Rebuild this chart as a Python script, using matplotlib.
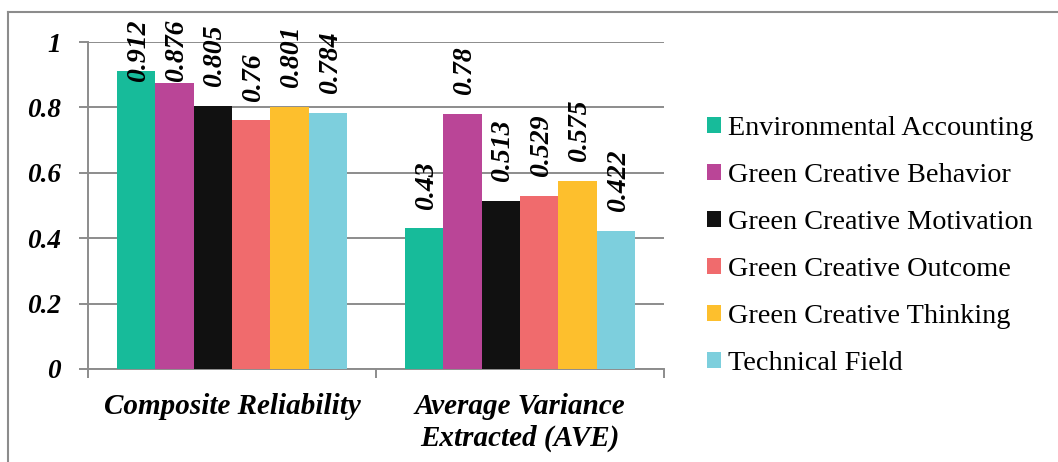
import numpy as np
import matplotlib.pyplot as plt
from matplotlib.lines import Line2D
from matplotlib.patches import Patch

# data
categories = ['Composite Reliability', 'Average Variance\nExtracted (AVE)']
series = ['Environmental Accounting', 'Green Creative Behavior',
          'Green Creative Motivation', 'Green Creative Outcome',
          'Green Creative Thinking', 'Technical Field']
cr_values = [0.912, 0.876, 0.805, 0.76, 0.801, 0.784]
ave_values = [0.43, 0.78, 0.513, 0.529, 0.575, 0.422]
value_labels = [['0.912', '0.876', '0.805', '0.76', '0.801', '0.784'],
                ['0.43', '0.78', '0.513', '0.529', '0.575', '0.422']]
colors = ['#17BB9A', '#BA4597', '#111111', '#F06B6D', '#FDBF2D', '#7DCFDD']
yticks = [0, 0.2, 0.4, 0.6, 0.8, 1]
ytick_labels = ['0', '0.2', '0.4', '0.6', '0.8', '1']

plt.rcParams['font.family'] = ['Liberation Serif', 'DejaVu Serif']

fig = plt.figure(figsize=(10.58, 4.62), dpi=100)
ax = fig.add_axes([88 / 1058, 1 - 369 / 462, 576 / 1058, 327 / 462])

grey = '#8c8c8c'
n = len(series)
w = 0.8 / n
x = np.arange(len(categories))
vals = np.array([cr_values, ave_values])

texts = []
for i in range(n):
    pos = x - 0.4 + w * (i + 0.5)
    ax.bar(pos, vals[:, i], width=w, color=colors[i], zorder=3,
           label=series[i])
    for j in range(len(categories)):
        t = ax.annotate(value_labels[j][i], xy=(pos[j], vals[j, i]),
                        xytext=(1.5, 13.5), textcoords='offset points',
                        rotation=90, ha='center', va='bottom',
                        fontsize=20, fontweight='bold', fontstyle='italic',
                        zorder=4, annotation_clip=False)
        texts.append(t)

ax.set_xlim(-0.5, 1.5)
ax.set_ylim(0, 1)
ax.set_yticks(yticks)
ax.set_yticklabels(ytick_labels, fontsize=19.5, fontweight='bold',
                   fontstyle='italic')
ax.yaxis.grid(True, color=grey, linewidth=1.4, zorder=0)
ax.tick_params(axis='y', length=6.5, width=1.4, color=grey, pad=13)

ax.set_xticks(x)
ax.set_xticklabels(categories, fontsize=21, fontweight='bold',
                   fontstyle='italic', linespacing=1.22)
ax.tick_params(axis='x', which='major', length=0, pad=17)
ax.set_xticks([-0.5, 0.5, 1.5], minor=True)
ax.tick_params(axis='x', which='minor', length=6.5, width=1.4, color=grey)

for s in ['top', 'right']:
    ax.spines[s].set_visible(False)
for s in ['left', 'bottom']:
    ax.spines[s].set_color(grey)
    ax.spines[s].set_linewidth(1.4)

# labels that would run off the top get pushed down (like Excel does)
fig.canvas.draw()
top_limit = 462 - 20
for t in texts:
    bb = t.get_window_extent()
    if bb.y1 > top_limit:
        ox, oy = t.xyann
        t.xyann = (ox, oy - (bb.y1 - top_limit) * 72 / 100)

handles = [Patch(facecolor=c, label=s) for c, s in zip(colors, series)]
fig.legend(handles=handles, loc='upper left',
           bbox_to_anchor=(696 / 1058, 1 - 105 / 462), frameon=False,
           fontsize=20.3, handlelength=0.5, handleheight=0.5,
           handletextpad=0.25, labelspacing=0.78, borderaxespad=0)

# outer frame (only top and left visible)
fig.add_artist(Line2D([8 / 1058, 1], [1 - 12 / 462, 1 - 12 / 462],
                      transform=fig.transFigure, color=grey, linewidth=1.5))
fig.add_artist(Line2D([8 / 1058, 8 / 1058], [0, 1 - 12 / 462],
                      transform=fig.transFigure, color=grey, linewidth=1.5))

plt.savefig('out.png', dpi=100)
